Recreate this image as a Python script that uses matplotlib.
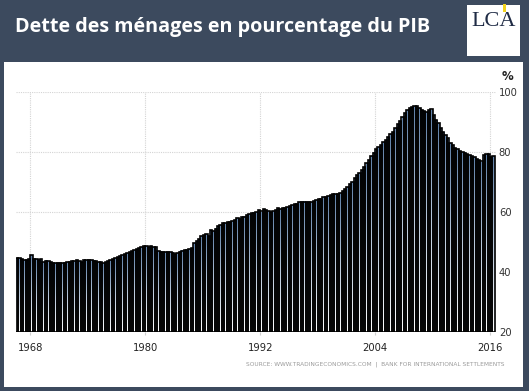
import numpy as np
import matplotlib
matplotlib.use("Agg")
import matplotlib.pyplot as plt
from matplotlib.colors import LinearSegmentedColormap
from matplotlib.patches import Rectangle

# quarterly household debt, % of GDP (1966 Q3 -> 2016 Q2)
start_year = 1966.5
debt_pct = [
    44.8, 44.6,                    # 1966
    44.3, 44.0, 44.0, 44.2,        # 1967
    45.7, 44.2, 44.3, 44.0,        # 1968
    44.2, 43.4, 43.8, 43.6,        # 1969
    43.2, 42.9, 42.9, 43.0,        # 1970
    43.0, 43.0, 43.1, 43.2,        # 1971
    43.3, 43.7, 43.6, 43.9,        # 1972
    43.7, 43.4, 43.9, 44.0,        # 1973
    44.0, 44.0, 43.8, 43.6,        # 1974
    43.4, 43.2, 43.0, 43.4,        # 1975
    43.7, 44.0, 44.4, 44.6,        # 1976
    45.0, 45.3, 45.6, 46.0,        # 1977
    46.3, 46.6, 46.9, 47.2,        # 1978
    47.7, 48.0, 48.4, 48.7,        # 1979
    48.7, 48.4, 48.6, 48.5,        # 1980
    48.2, 47.0, 46.8, 46.7,        # 1981
    46.7, 46.6, 46.7, 46.5,        # 1982
    46.0, 46.4, 46.8, 47.1,        # 1983
    47.2, 47.3, 47.6, 47.9,        # 1984
    49.6, 50.4, 50.9, 52.0,        # 1985
    52.2, 52.6, 52.0, 54.0,        # 1986
    53.7, 54.5, 55.3, 55.6,        # 1987
    56.4, 56.5, 56.7, 56.8,        # 1988
    56.9, 57.2, 57.9, 57.8,        # 1989
    58.3, 58.5, 59.0, 59.2,        # 1990
    59.6, 59.8, 60.1, 60.7,        # 1991
    60.2, 61.0, 60.6, 60.3,        # 1992
    59.9, 60.3, 60.7, 61.2,        # 1993
    61.0, 61.2, 61.5, 61.8,        # 1994
    62.0, 62.3, 62.6, 62.8,        # 1995
    63.2, 63.4, 63.5, 63.4,        # 1996
    63.3, 63.4, 63.7, 63.9,        # 1997
    64.2, 64.5, 64.9, 65.1,        # 1998
    65.3, 65.6, 65.9, 66.0,        # 1999
    65.9, 66.3, 67.1, 67.6,        # 2000
    68.5, 69.5, 70.1, 71.2,        # 2001
    72.3, 73.0, 74.0, 75.1,        # 2002
    76.3, 77.5, 78.8, 79.8,        # 2003
    80.9, 81.6, 82.3, 83.2,        # 2004
    84.0, 85.0, 85.9, 86.8,        # 2005
    88.0, 89.2, 90.4, 91.8,        # 2006
    93.0, 94.0, 94.8, 95.1,        # 2007
    95.3, 95.2, 94.6, 94.0,        # 2008
    93.6, 93.4, 93.9, 94.2,        # 2009
    92.3, 90.8, 89.6, 87.9,        # 2010
    86.8, 85.8, 84.6, 82.9,        # 2011
    82.3, 81.5, 81.0, 80.4,        # 2012
    80.1, 79.8, 79.3, 79.0,        # 2013
    78.6, 78.2, 77.7, 77.3,        # 2014
    76.9, 79.0, 79.2, 79.3,        # 2015
    78.4, 78.8,                    # 2016
]
year_ticks = [1968, 1980, 1992, 2004, 2016]
y_ticks = [20, 40, 60, 80, 100]

title = "Dette des ménages en pourcentage du PIB"
source = "SOURCE: WWW.TRADINGECONOMICS.COM  |  BANK FOR INTERNATIONAL SETTLEMENTS"

W, H = 529, 391
slate = "#3c4a5e"

fig = plt.figure(figsize=(W / 100, H / 100), dpi=100, facecolor=slate)

def fx(px):
    return px / W

def fy(py):
    return 1 - py / H

# white chart panel
fig.patches.append(Rectangle((fx(4), fy(387)), fx(523) - fx(4), fy(62) - fy(387),
                             transform=fig.transFigure, facecolor="white",
                             edgecolor="none", zorder=-10))
# logo box
fig.patches.append(Rectangle((fx(467), fy(56)), fx(520) - fx(467), fy(5) - fy(56),
                             transform=fig.transFigure, facecolor="white",
                             edgecolor="none", zorder=-10))
fig.text(fx(493.5), fy(21), "LCA", ha="center", va="center", fontsize=16,
         family="Liberation Serif", color="#1f2b45")
fig.patches.append(Rectangle((fx(503), fy(12)), fx(3), fy(4) - fy(12),
                             transform=fig.transFigure, facecolor="#f2d21c",
                             edgecolor="none", zorder=3))

fig.text(fx(15), fy(27), title, ha="left", va="center", fontsize=14.2,
         family="Open Sans", weight="bold", color="white")

ax = fig.add_axes([fx(16), fy(332), fx(496) - fx(16), fy(92) - fy(332)])
ax.set_facecolor("white")

vals = np.array(debt_pct)
n = len(vals)
xs = start_year + 0.125 + 0.25 * np.arange(n)
x0, x1 = xs[0] - 0.125, xs[-1] + 0.125

# per-bar vertical gradient, white at the base to steel blue at the top
ys = np.linspace(20, 100, 500)
t = (ys[:, None] - 20) / (vals[None, :] - 20)
t = np.ma.masked_where(t > 1, t)
cmap = LinearSegmentedColormap.from_list("bar", ["#ffffff", "#b9c9dc", "#5f80a8"])
ax.imshow(t, extent=(x0, x1, 20, 100), origin="lower", aspect="auto",
          cmap=cmap, vmin=0, vmax=1, interpolation="nearest", zorder=2)
ax.bar(xs, vals - 20, bottom=20, width=0.25, facecolor="none",
       edgecolor="black", linewidth=1.2, zorder=3)

ax.set_xlim(x0, 2016.63)
ax.set_ylim(20, 100)
ax.set_xticks(year_ticks)
ax.set_yticks(y_ticks)
ax.grid(True, color="#d4d4d4", linestyle=(0, (1, 1)), linewidth=0.8, zorder=0)
ax.set_axisbelow(True)
for s in ax.spines.values():
    s.set_visible(False)
ax.yaxis.tick_right()
ax.tick_params(axis="y", length=0, pad=2, labelsize=7.2, labelcolor="#333333")
ax.tick_params(axis="x", length=2, color="#cfcfcf", pad=6, labelsize=7.2,
               labelcolor="#222222")

fig.text(fx(502), fy(76), "%", ha="left", va="center", fontsize=8.5,
         weight="bold", color="#222222")
fig.text(fx(505), fy(364), source, ha="right", va="center", fontsize=4.2,
         color="#9a9a9a")

fig.savefig("out.png", dpi=100, facecolor=slate)
